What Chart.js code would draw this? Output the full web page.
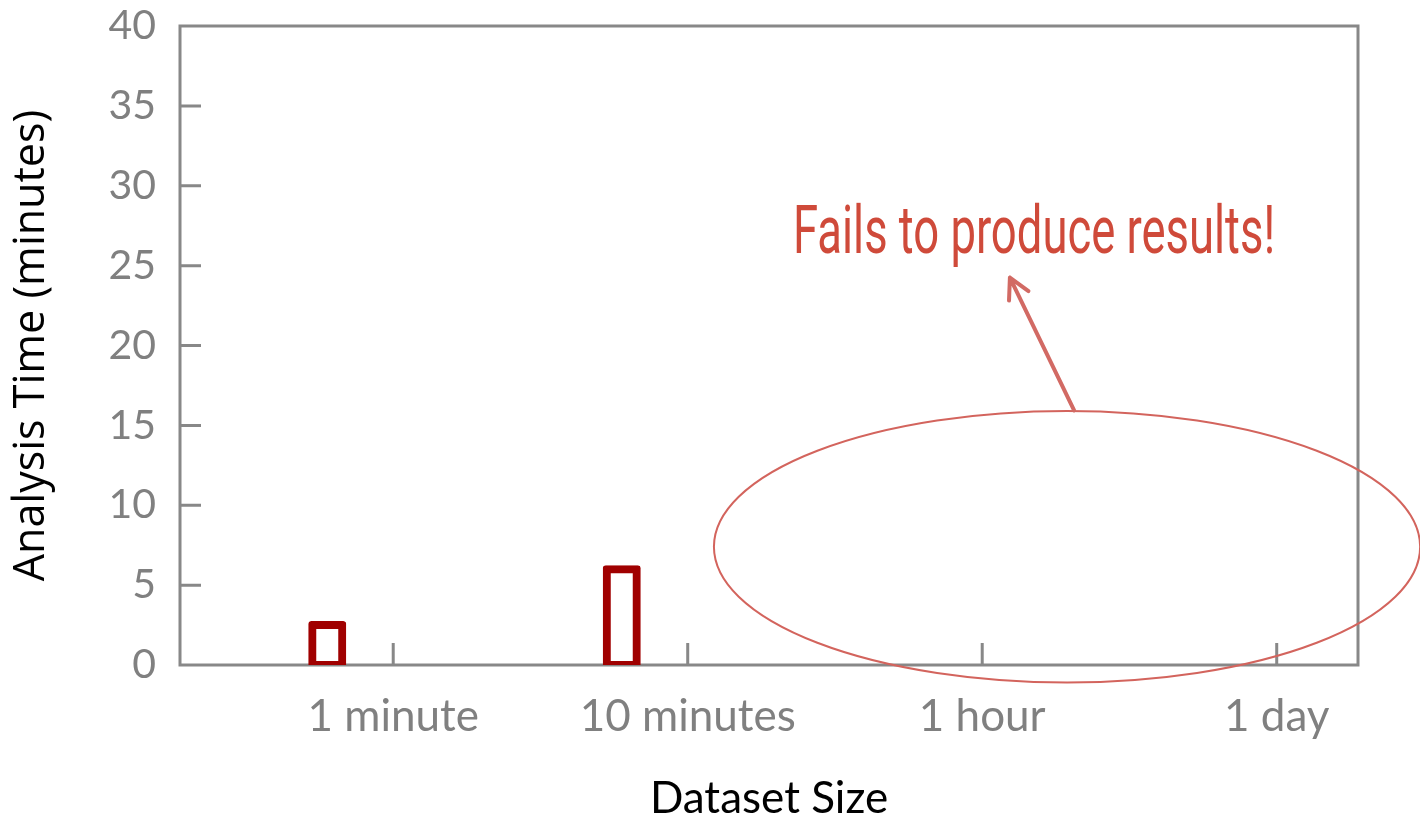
<!DOCTYPE html>
<html>
<head>
<meta charset="utf-8">
<title>Analysis Time vs Dataset Size</title>
<script src="https://cdn.jsdelivr.net/npm/chart.js@4.4.1/dist/chart.umd.min.js"></script>
<style>
  html, body { margin: 0; padding: 0; background: #fff; }
  #wrap { width: 1420px; height: 823px; }
</style>
</head>
<body>
<div id="wrap"><canvas id="chart" width="1420" height="823"></canvas></div>
<script>
// values
const categories = ['1 minute', '10 minutes', '1 hour', '1 day'];
const analysisTime = [2.5, 6, null, null];
const yTicks = [0, 5, 10, 15, 20, 25, 30, 35, 40];
const noteText = 'Fails to produce results!';

// look
const gray = '#888888';
const labelGray = '#808080';
const barRed = '#a00000';
const noteRed = '#cf4a3a';
const ringRed = '#d3645d';
const arrowRed = '#d26a64';
const baseFont = 'Lato, "Open Sans", sans-serif';
const tickShift = 0.224; // the tick labels sit a bit right of the bars

// callout, in axis units (xl: 0..4 across the plot, y: minutes)
const note = { x: 2.9, y: 25.8, width: 1.637 };
const ring = { x: 3.012, y: 7.4, rx: 1.199, ry: 8.5 };
const arrow = { x0: 3.036, y0: 15.94, x1: 2.818, y1: 24.25 };

// box round the plot and the short inward ticks
const framePlugin = {
  id: 'frame',
  beforeDatasetsDraw(chart) {
    const ctx = chart.ctx;
    const a = chart.chartArea;
    const y = chart.scales.y;
    const xl = chart.scales.xl;
    ctx.save();
    ctx.strokeStyle = gray;
    ctx.lineWidth = 3;
    ctx.strokeRect(a.left, a.top, a.right - a.left, a.bottom - a.top);
    ctx.beginPath();
    yTicks.forEach(v => {
      if (v == y.min || v == y.max) return;
      const py = y.getPixelForValue(v);
      ctx.moveTo(a.left, py);
      ctx.lineTo(a.left + 21, py);
    });
    xl.ticks.forEach(t => {
      const px = xl.getPixelForValue(t.value);
      ctx.moveTo(px, a.bottom);
      ctx.lineTo(px, a.bottom - 22);
    });
    ctx.stroke();
    ctx.restore();
  },
  afterDraw(chart) {
    const ctx = chart.ctx;
    const y = chart.scales.y;
    const xl = chart.scales.xl;
    ctx.save();

    // ellipse
    const cx = xl.getPixelForValue(ring.x);
    const cy = y.getPixelForValue(ring.y);
    const rx = xl.getPixelForValue(ring.x + ring.rx) - cx;
    const ry = cy - y.getPixelForValue(ring.y + ring.ry);
    ctx.strokeStyle = ringRed;
    ctx.lineWidth = 2;
    ctx.beginPath();
    ctx.ellipse(cx, cy, rx, ry, 0, 0, Math.PI * 2);
    ctx.stroke();

    // arrow
    const x0 = xl.getPixelForValue(arrow.x0), y0 = y.getPixelForValue(arrow.y0);
    const x1 = xl.getPixelForValue(arrow.x1), y1 = y.getPixelForValue(arrow.y1);
    const ang = Math.atan2(y0 - y1, x0 - x1);
    const head = 23, spread = 28 * Math.PI / 180;
    ctx.strokeStyle = arrowRed;
    ctx.lineWidth = 4;
    ctx.lineCap = 'round';
    ctx.lineJoin = 'round';
    ctx.beginPath();
    ctx.moveTo(x0, y0);
    ctx.lineTo(x1, y1);
    ctx.moveTo(x1 + head * Math.cos(ang - spread), y1 + head * Math.sin(ang - spread));
    ctx.lineTo(x1, y1);
    ctx.lineTo(x1 + head * Math.cos(ang + spread), y1 + head * Math.sin(ang + spread));
    ctx.stroke();

    // text, squeezed to a condensed look
    const tx = xl.getPixelForValue(note.x);
    const ty = y.getPixelForValue(note.y);
    const tw = xl.getPixelForValue(note.x + note.width / 2) - xl.getPixelForValue(note.x - note.width / 2);
    ctx.font = '400 66px Roboto, "Open Sans", sans-serif';
    const mw = ctx.measureText(noteText).width;
    ctx.translate(tx, ty);
    ctx.scale(tw / mw, 1);
    ctx.fillStyle = noteRed;
    ctx.textAlign = 'center';
    ctx.textBaseline = 'alphabetic';
    ctx.fillText(noteText, 0, 0);
    ctx.restore();
  }
};

new Chart(document.getElementById('chart'), {
  type: 'bar',
  data: {
    labels: categories,
    datasets: [{
      label: 'Analysis Time',
      data: analysisTime,
      xAxisID: 'x',
      yAxisID: 'y',
      backgroundColor: '#ffffff',
      borderColor: barRed,
      borderWidth: 8,
      borderSkipped: false,
      borderRadius: 3,
      inflateAmount: 4,
      barThickness: 30
    }]
  },
  options: {
    responsive: false,
    animation: false,
    devicePixelRatio: 1,
    layout: { padding: { top: 26, right: 62, bottom: 0, left: 0 } },
    plugins: {
      legend: { display: false },
      tooltip: { enabled: false }
    },
    scales: {
      x: {
        type: 'category',
        display: false,
        offset: true
      },
      xl: {
        type: 'linear',
        position: 'bottom',
        offset: false,
        min: 0,
        max: categories.length,
        grid: { display: false, drawTicks: false, offset: false },
        border: { display: false },
        afterBuildTicks(s) {
          s.ticks = categories.map((c, i) => ({ value: i + 0.5 + tickShift }));
        },
        ticks: {
          autoSkip: false,
          maxRotation: 0,
          padding: 25,
          color: labelGray,
          font: { family: baseFont, size: 44 },
          callback: (v, i) => categories[i]
        },
        title: {
          display: true,
          text: 'Dataset Size',
          color: '#000000',
          font: { family: baseFont, size: 44, lineHeight: 1.1 },
          padding: 0
        },
        afterFit(s) { s.height = 158; s.paddingLeft = 0; s.paddingRight = 0; }
      },
      y: {
        min: 0,
        max: 40,
        afterBuildTicks(s) {
          s.ticks = yTicks.map(v => ({ value: v }));
        },
        grid: { display: false, drawTicks: false },
        border: { display: false },
        ticks: {
          padding: 24,
          color: labelGray,
          font: { family: baseFont, size: 41 }
        },
        title: {
          display: true,
          text: 'Analysis Time (minutes)',
          color: '#000000',
          font: { family: '"Open Sans", Lato, sans-serif', size: 43, lineHeight: 1.1 },
          padding: { top: 8, bottom: 0 }
        },
        afterFit(s) { s.width = 180; s.paddingTop = 0; s.paddingBottom = 0; }
      }
    }
  },
  plugins: [framePlugin]
});
</script>
</body>
</html>
